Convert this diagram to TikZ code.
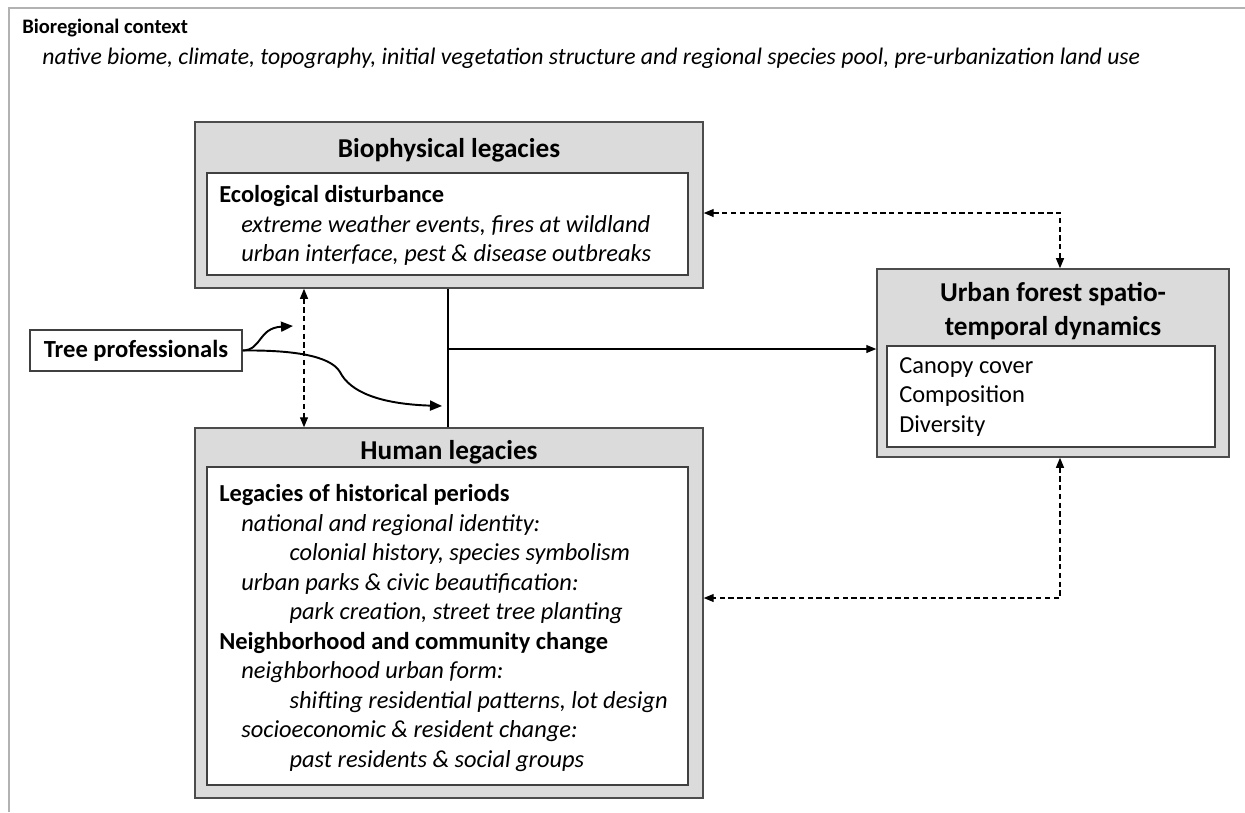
\documentclass[tikz,border=0pt]{standalone}
\usepackage{fontspec}
\setmainfont{Carlito}
\usetikzlibrary{arrows.meta}
\newcommand\lvlone{\hspace*{12.5pt}}
\newcommand\lvltwo{\hspace*{40pt}}
\tikzset{
  legacybox/.style={draw=black!70, fill=black!14, line width=0.9pt, rectangle, inner sep=0pt},
  listbox/.style={draw=black!75, fill=white, line width=0.8pt, rectangle, inner sep=0pt},
  boxtitle/.style={font=\fontsize{15.5}{19.3}\selectfont\bfseries, align=center},
  boxtext/.style={font=\fontsize{13.9}{16.8}\selectfont, align=left, anchor=north west, inner sep=0pt},
  link/.style={line width=0.7pt, dash pattern=on 3pt off 2pt, {Triangle[length=2mm,width=1.6mm]}-{Triangle[length=2mm,width=1.6mm]}},
  treearrow/.style={line width=1.1pt, -{Triangle[length=2.4mm,width=2mm]}},
}
\begin{document}
\begin{tikzpicture}[x=0.02cm, y=-0.02cm]
\useasboundingbox (0,0) rectangle (1245,812);
% bioregional context frame
\draw[black!30, line width=1pt] (9,812) -- (9,8) -- (1245,8);
\node[anchor=west, inner sep=0pt, font=\fontsize{11.7}{13}\selectfont\bfseries] (ctx) at (22,28) {Bioregional context};
\node[anchor=west, inner sep=0pt, font=\fontsize{13.5}{15}\selectfont\itshape] (ctxtext) at (42,58) {native biome, climate, topography, initial vegetation structure and regional species pool, pre-urbanization land use};

% biophysical legacies
\node[legacybox, minimum width=10.16cm, minimum height=3.32cm] (bio) at (449,205) {};
\node[listbox, minimum width=9.62cm, minimum height=2.04cm] (biolist) at (447.5,224) {};
\node[boxtitle] (biotitle) at (449,150) {Biophysical legacies};
\node[boxtext] (biotext) at (219,185) {\textbf{Ecological disturbance}\\
  \lvlone\textit{extreme weather events, fires at wildland}\\
  \lvlone\textit{urban interface, pest \& disease outbreaks}};

% human legacies
\node[legacybox, minimum width=10.16cm, minimum height=7.4cm] (human) at (449,613) {};
\node[listbox, minimum width=9.62cm, minimum height=6.36cm] (humanlist) at (447.5,626) {};
\node[boxtitle] (humantitle) at (449,452) {Human legacies};
\node[boxtext] (humantext) at (219,484) {\textbf{Legacies of historical periods}\\
  \lvlone\textit{national and regional identity:}\\
  \lvltwo\textit{colonial history, species symbolism}\\
  \lvlone\textit{urban parks \& civic beautification:}\\
  \lvltwo\textit{park creation, street tree planting}\\
  \textbf{Neighborhood and community change}\\
  \lvlone\textit{neighborhood urban form:}\\
  \lvltwo\textit{shifting residential patterns, lot design}\\
  \lvlone\textit{socioeconomic \& resident change:}\\
  \lvltwo\textit{past residents \& social groups}};

% urban forest
\node[legacybox, minimum width=7.04cm, minimum height=3.76cm] (urban) at (1053,363) {};
\node[listbox, minimum width=6.56cm, minimum height=2.02cm] (urbanlist) at (1051,396.5) {};
\node[boxtitle] (urbantitle) at (1053,311) {Urban forest spatio-\\temporal dynamics};
\node[boxtext] (urbantext) at (899,357) {Canopy cover\\Composition\\Diversity};

% tree professionals
\node[draw=black!75, line width=0.8pt, minimum width=4.24cm, minimum height=0.82cm, font=\fontsize{14}{16}\selectfont\bfseries] (tree) at (136,350.5) {Tree professionals};
\coordinate (tpup) at (293,326);
\coordinate (tpdown) at (442,406);
\draw[treearrow] (tree.east) .. controls (262,350) and (258,328) .. (tpup);
\draw[treearrow] (tree.east) .. controls (290,350) and (330,355) .. (340,372) .. controls (350,392) and (380,404) .. (tpdown);

% links between boxes
\draw[link] (304,0 |- bio.south) -- (304,0 |- human.north);
\coordinate (hub) at (448,349);
\draw[line width=0.7pt] (hub |- bio.south) -- (hub |- human.north);
\draw[line width=0.7pt, -{Triangle[length=2mm,width=1.6mm]}] (hub) -- (urban.west |- hub);
\coordinate (looptop) at (1060,213);
\coordinate (loopbot) at (1060,598);
\draw[link] (bio.east |- looptop) -| (looptop |- urban.north);
\draw[link] (loopbot |- urban.south) |- (human.east |- loopbot);
\end{tikzpicture}
\end{document}
